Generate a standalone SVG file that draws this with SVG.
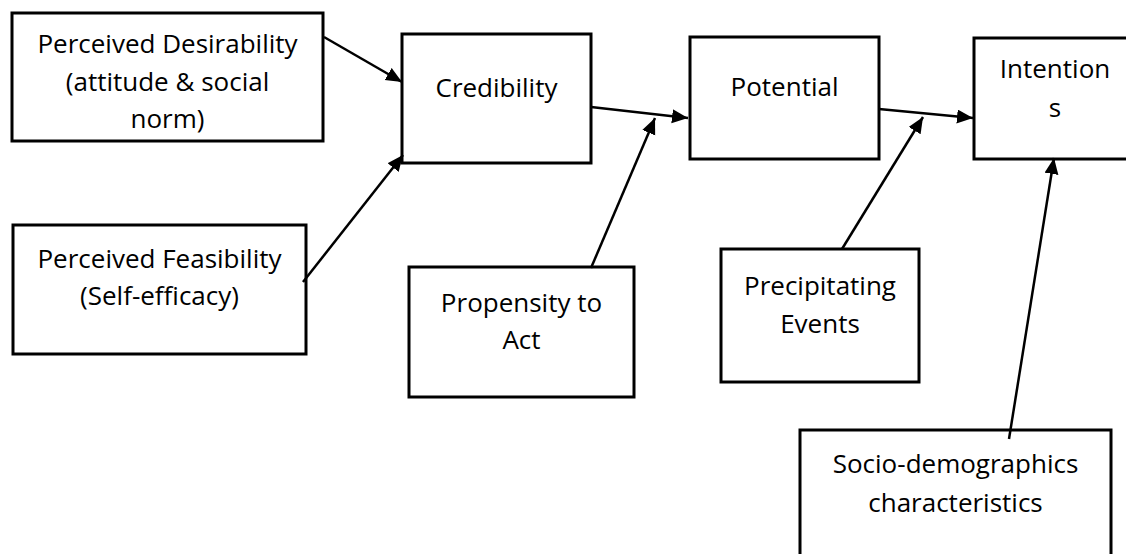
<svg xmlns="http://www.w3.org/2000/svg" width="1126" height="554" viewBox="0 0 1126 554">
<style>
.box{fill:#fff;stroke:#000;stroke-width:3}
.lbl{font-family:"Open Sans","Liberation Sans",sans-serif;font-size:26px;fill:#000;text-anchor:middle}
.con{stroke:#000;stroke-width:2.5;fill:none;marker-end:url(#ah)}
</style>
<defs>
<marker id="ah" markerUnits="userSpaceOnUse" markerWidth="18" markerHeight="16" refX="16" refY="7" orient="auto">
<path d="M0,0 L16,7 L0,14 z" fill="#000"/>
</marker>
</defs>
<rect width="1126" height="554" fill="#fff"/>
<g id="n-desirability">
<rect class="box" x="12" y="13" width="311" height="128"/>
<text class="lbl" x="167.5" y="53">Perceived Desirability</text>
<text class="lbl" x="167.5" y="91">(attitude &amp; social</text>
<text class="lbl" x="167.5" y="128">norm)</text>
</g>
<g id="n-feasibility">
<rect class="box" x="13" y="225" width="293" height="129"/>
<text class="lbl" x="159.5" y="268">Perceived Feasibility</text>
<text class="lbl" x="159.5" y="305">(Self-efficacy)</text>
</g>
<g id="n-credibility">
<rect class="box" x="402" y="34" width="189" height="129"/>
<text class="lbl" x="496.5" y="97">Credibility</text>
</g>
<g id="n-potential">
<rect class="box" x="690" y="37" width="189" height="122"/>
<text class="lbl" x="784.5" y="96">Potential</text>
</g>
<g id="n-intentions">
<rect class="box" x="974" y="38" width="165" height="121"/>
<text class="lbl" x="1055" y="78">Intention</text>
<text class="lbl" x="1055" y="117">s</text>
</g>
<g id="n-propensity">
<rect class="box" x="409" y="267" width="225" height="130"/>
<text class="lbl" x="521.5" y="312">Propensity to</text>
<text class="lbl" x="521.5" y="349">Act</text>
</g>
<g id="n-precipitating">
<rect class="box" x="721" y="249" width="198" height="133"/>
<text class="lbl" x="820" y="295">Precipitating</text>
<text class="lbl" x="820" y="333">Events</text>
</g>
<g id="n-socio">
<rect class="box" x="800" y="430" width="311" height="140"/>
<text class="lbl" x="955.5" y="473">Socio-demographics</text>
<text class="lbl" x="955.5" y="512">characteristics</text>
</g>
<g id="connectors">
<line class="con" x1="324" y1="37" x2="402" y2="82"/>
<line class="con" x1="303" y1="282" x2="403" y2="155"/>
<line class="con" x1="591" y1="107" x2="688" y2="118"/>
<line class="con" x1="591" y1="268" x2="655" y2="118"/>
<line class="con" x1="879" y1="109" x2="973" y2="118"/>
<line class="con" x1="842" y1="249" x2="923" y2="117"/>
<line class="con" x1="1009" y1="439" x2="1054" y2="158"/>
</g>
</svg>
